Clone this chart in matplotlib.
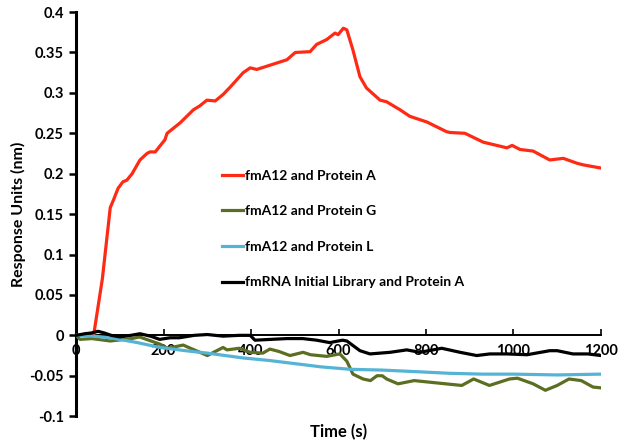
import matplotlib.pyplot as plt

# time (s) and response (nm)
t_a = [40, 60, 78, 85, 96, 107, 116, 128, 146, 162, 169, 181, 203, 208, 238, 268, 283, 299, 318, 336,
       352, 382, 398, 413, 459, 482, 501, 535, 550, 573, 592, 599, 611, 619, 633, 649, 664, 695, 710,
       741, 763, 802, 847, 855, 889, 931, 985, 997, 1015, 1045, 1083, 1114, 1145, 1159, 1200]
resp_a = [0.0, 0.07, 0.158, 0.167, 0.182, 0.19, 0.192, 0.20, 0.217, 0.225, 0.227, 0.227, 0.242, 0.25,
          0.263, 0.279, 0.284, 0.291, 0.29, 0.298, 0.307, 0.325, 0.331, 0.329, 0.337, 0.341, 0.35,
          0.351, 0.36, 0.366, 0.374, 0.372, 0.38, 0.378, 0.353, 0.32, 0.306, 0.291, 0.289, 0.279,
          0.271, 0.264, 0.252, 0.251, 0.25, 0.239, 0.232, 0.235, 0.23, 0.228, 0.217, 0.219, 0.213,
          0.211, 0.207]

t_g = [0, 9, 36, 78, 127, 145, 192, 209, 245, 253, 300, 336, 345, 373, 398, 427, 443, 464, 489, 519,
       536, 573, 603, 619, 633, 656, 673, 688, 700, 710, 736, 773, 809, 845, 882, 909, 945, 991, 1009,
       1045, 1073, 1100, 1127, 1155, 1182, 1200]
resp_g = [0.0, -0.005, -0.004, -0.007, -0.004, -0.002, -0.011, -0.016, -0.012, -0.014, -0.025,
          -0.015, -0.018, -0.016, -0.021, -0.022, -0.017, -0.02, -0.025, -0.021, -0.024, -0.026,
          -0.023, -0.032, -0.048, -0.054, -0.056, -0.05, -0.05, -0.054, -0.06, -0.056, -0.058,
          -0.06, -0.062, -0.054, -0.062, -0.054, -0.053, -0.06, -0.068, -0.062, -0.054, -0.056,
          -0.064, -0.065]

t_l = [0, 40, 78, 140, 192, 250, 300, 382, 440, 500, 560, 626, 700, 780, 855, 930, 1000, 1100, 1200]
resp_l = [0.0, -0.001, -0.003, -0.009, -0.015, -0.019, -0.022, -0.028, -0.031, -0.035, -0.039,
          -0.042, -0.043, -0.045, -0.047, -0.048, -0.048, -0.049, -0.048]

t_lib = [0, 20, 36, 50, 64, 80, 100, 125, 146, 170, 191, 215, 236, 270, 300, 336, 373, 398, 409,
         445, 482, 518, 550, 580, 609, 619, 649, 672, 718, 756, 786, 836, 878, 916, 946, 985, 1031,
         1083, 1100, 1136, 1170, 1200]
resp_lib = [0.0, 0.002, 0.003, 0.005, 0.003, 0.0, -0.002, 0.0, 0.002, -0.001, -0.005, -0.003,
            -0.003, 0.0, 0.001, -0.001, 0.0, 0.0, -0.006, -0.005, -0.004, -0.004, -0.006, -0.009,
            -0.006, -0.007, -0.019, -0.023, -0.021, -0.018, -0.021, -0.016, -0.021, -0.025, -0.023,
            -0.023, -0.024, -0.019, -0.019, -0.023, -0.023, -0.025]

labels = ['fmA12 and Protein A', 'fmA12 and Protein G', 'fmA12 and Protein L',
          'fmRNA Initial Library and Protein A']
x_ticks = [0, 200, 400, 600, 800, 1000, 1200]
y_ticks = [-0.1, -0.05, 0, 0.05, 0.1, 0.15, 0.2, 0.25, 0.3, 0.35, 0.4]

plt.rcParams['font.family'] = ['Lato', 'DejaVu Sans']
plt.rcParams['font.weight'] = 'bold'

fig = plt.figure(figsize=(6.24, 4.47), dpi=100)
ax = fig.add_axes([0.122, 0.069, 0.841, 0.904])

ax.plot(t_a, resp_a, color='#FF2A14', lw=2.3, label=labels[0], zorder=3)
ax.plot(t_g, resp_g, color='#5B6E22', lw=2.3, label=labels[1], zorder=3)
ax.plot(t_l, resp_l, color='#55B4D6', lw=2.3, label=labels[2], zorder=3)
ax.plot(t_lib, resp_lib, color='black', lw=2.3, label=labels[3], zorder=3)

ax.set_xlim(0, 1200)
ax.set_ylim(-0.1, 0.4)
ax.set_xticks(x_ticks)
ax.set_yticks(y_ticks)
ax.set_xticklabels([str(v) for v in x_ticks])
ax.set_yticklabels(['-0.1', '-0.05', '0', '0.05', '0.1', '0.15', '0.2', '0.25', '0.3', '0.35', '0.4'])

ax.spines['top'].set_visible(False)
ax.spines['right'].set_visible(False)
ax.spines['bottom'].set_position(('data', 0))
ax.spines['left'].set_linewidth(2.2)
ax.spines['bottom'].set_linewidth(1.4)
ax.tick_params(axis='y', direction='out', length=5, width=1.8, labelsize=10.5, pad=4)
ax.tick_params(axis='x', direction='in', length=4, width=1.2, labelsize=10.5, pad=6)

ax.set_xlabel('Time (s)', fontsize=12, fontweight='bold')
ax.xaxis.set_label_coords(0.5, -0.02)
ax.set_ylabel('Response Units (nm)', fontsize=11.5, fontweight='bold')
ax.yaxis.set_label_coords(-0.095, 0.5)

ax.legend(loc='upper left', bbox_to_anchor=(0.268, 0.624), frameon=False, fontsize=10,
          handlelength=1.5, handletextpad=0.15, labelspacing=1.7, borderaxespad=0)

fig.savefig('out.png', dpi=100)
